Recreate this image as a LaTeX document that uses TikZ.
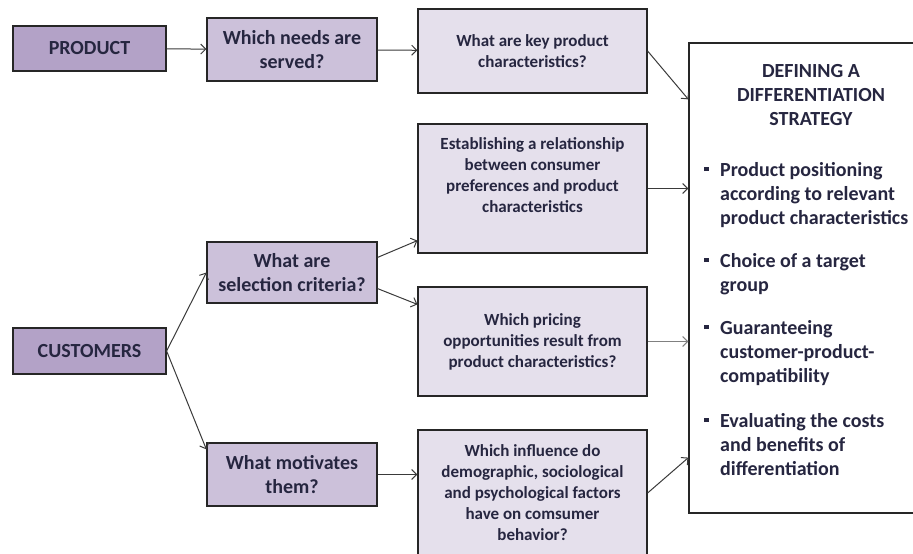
\documentclass[tikz,border=0pt]{standalone}
\usepackage{fontspec}
\setmainfont{Carlito}
\usetikzlibrary{arrows.meta,positioning}
\definecolor{darklav}{HTML}{B3A2C7}
\definecolor{midlav}{HTML}{CCC1DA}
\definecolor{lightlav}{HTML}{E5E0EC}
\definecolor{inkblue}{HTML}{262640}
\definecolor{edgegray}{HTML}{3A3A3A}
\newcommand{\sqbullet}{\rule[5pt]{4.5pt}{4.5pt}}

\begin{document}
\begin{tikzpicture}[x=1pt,y=-1pt,->,>={Straight Barb[length=5pt,width=10pt]},
                    every edge/.append style={draw=edgegray,line width=1pt},
                    every text node part/.style={align=center}]
  \tikzstyle{box}=[draw=black!85,line width=1.2pt,text=inkblue,inner sep=0pt]
  \tikzstyle{topic}=[box,fill=darklav,font=\bfseries\fontsize{20}{24}\selectfont,minimum width=153pt,minimum height=45pt]
  \tikzstyle{question}=[box,fill=midlav,font=\bfseries\fontsize{20}{24}\selectfont,minimum width=170pt]
  \tikzstyle{answer}=[box,fill=lightlav,font=\bfseries\fontsize{17}{21}\selectfont,minimum width=229pt]

  \useasboundingbox (0,0) rectangle (913,554);
  \clip (0,0) rectangle (913,554);

    \node[topic]                          (product)   at (89.5,48.5)  {PRODUCT};
    \node[question, minimum height=63pt]  (needs)     at (292,49.5)   {Which needs are\\ served?};
    \node[answer, minimum height=84pt]    (keychar)   at (532.5,51)   {What are key product\\ characteristics?};
    \node[answer, minimum height=129pt]   (relation)  at (532.5,188.5) {Establishing a relationship\\ between consumer\\ preferences and product\\ characteristics\\ \strut};
    \node[question, minimum height=61pt]  (criteria)  at (292,272.5)  {What are\\ selection criteria?};
    \node[topic, minimum height=46pt]     (customers) at (89.5,351)   {CUSTOMERS};
    \node[answer, minimum height=109pt]   (pricing)   at (532.5,341.5) {Which pricing\\ opportunities result from\\ product characteristics?};
    \node[question, minimum height=63pt]  (motives)   at (292,474.5)  {What motivates\\ them?};
    \node[answer, minimum height=126pt]   (influence) at (532.5,493)  {Which influence do\\ demographic, sociological\\ and psychological factors\\ have on comsumer\\ behavior?};

    \node[box, fill=white, minimum width=244pt, minimum height=470pt] (strategy) at (811,278) {};
    \node[text=inkblue, font=\bfseries\fontsize{20}{24}\selectfont] (title) at (811,95)
         {DEFINING A\\ DIFFERENTIATION\\ STRATEGY};
    \node[text=inkblue, font=\bfseries\fontsize{20}{24}\selectfont, inner sep=0pt, anchor=north west] (goals) at (704,159)
         {\begin{tabular}{@{}p{16pt}@{}l@{}}
            \sqbullet & Product positioning\\
                      & according to relevant\\
                      & product characteristics\\[19pt]
            \sqbullet & Choice of a target\\
                      & group\\[19pt]
            \sqbullet & Guaranteeing\\
                      & customer-product-\\
                      & compatibility\\[21pt]
            \sqbullet & Evaluating the costs\\
                      & and benefits of\\
                      & differentiation
          \end{tabular}};

  \path (product) edge (needs)
        (needs) edge (keychar)
        (keychar.east) edge ([yshift=-57pt]strategy.north west)
        (relation.east) edge (relation.east -| strategy.west)
        (pricing.east) edge [draw=gray] (pricing.east -| strategy.west)
        (influence.east) edge ([yshift=56pt]strategy.south west)
        (customers.east) edge (criteria.west)
            edge ([yshift=-7pt]motives.north west)
        ([yshift=-16pt]criteria.north east) edge ([yshift=13pt]relation.south west)
        ([yshift=15pt]criteria.south east) edge ([yshift=-18pt]pricing.north west)
        (motives.east) edge (motives.east -| influence.west);

\end{tikzpicture}
\end{document}
